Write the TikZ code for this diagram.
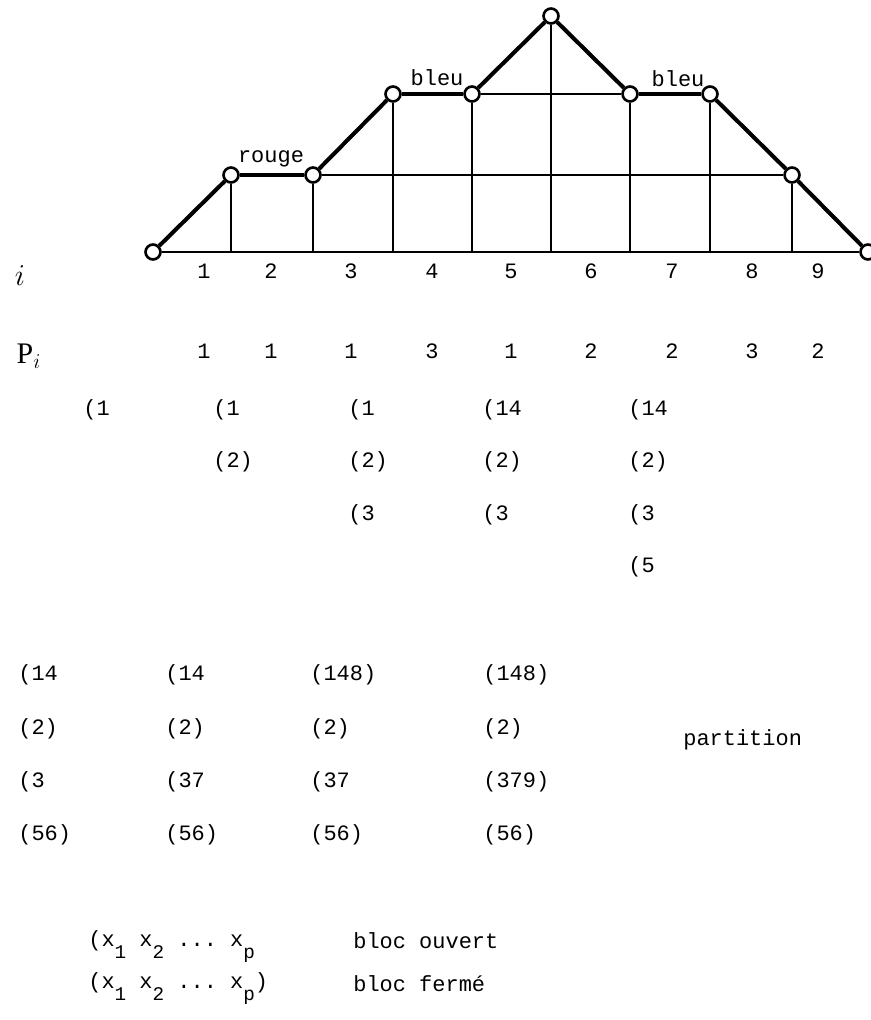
\documentclass[tikz,border=0pt]{standalone}
\usepackage{fontspec}
\setmainfont{Liberation Serif}
\setmonofont{Liberation Mono}
\usetikzlibrary{positioning}
\newcommand{\lowsub}[1]{\raisebox{-1.1ex}{\fontsize{11}{12}\selectfont #1}}
\tikzset{
  vtx/.style  = {circle, draw, fill=white, line width=1.5pt, inner sep=0pt, minimum size=8.5pt},
  thk/.style  = {line width=2.3pt, line join=round},
  thn/.style  = {line width=0.8pt},
  tag/.style  = {font=\ttfamily\fontsize{12.5}{14}\selectfont, inner sep=0pt},
  num/.style  = {font=\ttfamily\fontsize{12.5}{14}\selectfont, inner sep=0pt,
                 text height=1.6ex, text depth=.35ex},
  blk/.style  = {num, anchor=west},
  hdr/.style  = {font=\fontsize{17}{19}\selectfont, inner sep=0pt},
}

\begin{document}
\begin{tikzpicture}[x=0.02cm, y=-0.02cm]
  \useasboundingbox (0,0) rectangle (871,1020);

  \node[vtx] (v0) at (153,252) {};
  \node[vtx] (v1) at (231,175) {};
  \node[vtx] (v2) at (313,175) {};
  \node[vtx] (v3) at (393,94) {};
  \node[vtx] (v4) at (472,94) {};
  \node[vtx] (v5) at (551,16) {};
  \node[vtx] (v6) at (630,94) {};
  \node[vtx] (v7) at (710,94) {};
  \node[vtx] (v8) at (792,175) {};
  \node[vtx] (v9) at (868,252) {};

  \draw[thn] (v0) -- (v9);
  \draw[thn] (v2) -- (v8);
  \draw[thn] (v4) -- (v6);
  \draw[thn] (v1) -- (v1 |- v0);
  \draw[thn] (v2) -- (v2 |- v0);
  \draw[thn] (v3) -- (v3 |- v0);
  \draw[thn] (v4) -- (v4 |- v0);
  \draw[thn] (v5) -- (v5 |- v0);
  \draw[thn] (v6) -- (v6 |- v0);
  \draw[thn] (v7) -- (v7 |- v0);
  \draw[thn] (v8) -- (v8 |- v0);

  \draw[thk] (v0) -- (v1);
  \draw[thk] (v1) -- (v2);
  \draw[thk] (v2) -- (v3);
  \draw[thk] (v3) -- (v4);
  \draw[thk] (v4) -- (v5);
  \draw[thk] (v5) -- (v6);
  \draw[thk] (v6) -- (v7);
  \draw[thk] (v7) -- (v8);
  \draw[thk] (v8) -- (v9);

  \node[tag] (rouge) at (271,159) {rouge};
  \node[tag] (bleuL) at (437,78) {bleu};
  \node[tag] (bleuR) at (678,79) {bleu};

  \node[hdr] (ii) at (20,276) {$i$};
  \node[hdr] (pp) at (29,356) {P$_{i}$};

  \node[num] (i1) at (204,273) {1};
  \node[num] (i2) at (271,273) {2};
  \node[num] (i3) at (351,273) {3};
  \node[num] (i4) at (432,273) {4};
  \node[num] (i5) at (511,273) {5};
  \node[num] (i6) at (591,273) {6};
  \node[num] (i7) at (672,273) {7};
  \node[num] (i8) at (752,273) {8};
  \node[num] (i9) at (818,273) {9};

  \node[num] (p1) at (204,353) {1};
  \node[num] (p2) at (271,353) {1};
  \node[num] (p3) at (351,353) {1};
  \node[num] (p4) at (432,353) {3};
  \node[num] (p5) at (511,353) {1};
  \node[num] (p6) at (591,353) {2};
  \node[num] (p7) at (672,353) {2};
  \node[num] (p8) at (752,353) {3};
  \node[num] (p9) at (818,353) {2};

  \node[blk] (a11) at (83,410) {(1};
  \node[blk] (a21) at (213,410) {(1};
  \node[blk] (a22) at (213,462) {(2)};
  \node[blk] (a31) at (348,410) {(1};
  \node[blk] (a32) at (348,462) {(2)};
  \node[blk] (a33) at (348,515) {(3};
  \node[blk] (a41) at (482,410) {(14};
  \node[blk] (a42) at (482,462) {(2)};
  \node[blk] (a43) at (482,515) {(3};
  \node[blk] (a51) at (628,410) {(14};
  \node[blk] (a52) at (628,462) {(2)};
  \node[blk] (a53) at (628,515) {(3};
  \node[blk] (a54) at (628,567) {(5};

  \node[blk] (b11) at (18,675) {(14};
  \node[blk] (b12) at (18,729) {(2)};
  \node[blk] (b13) at (18,782) {(3};
  \node[blk] (b14) at (18,835) {(56)};
  \node[blk] (b21) at (165,675) {(14};
  \node[blk] (b22) at (165,729) {(2)};
  \node[blk] (b23) at (165,782) {(37};
  \node[blk] (b24) at (165,835) {(56)};
  \node[blk] (b31) at (310,675) {(148)};
  \node[blk] (b32) at (310,729) {(2)};
  \node[blk] (b33) at (310,782) {(37};
  \node[blk] (b34) at (310,835) {(56)};
  \node[blk] (b41) at (483,675) {(148)};
  \node[blk] (b42) at (483,729) {(2)};
  \node[blk] (b43) at (483,782) {(379)};
  \node[blk] (b44) at (483,835) {(56)};
  \node[tag, anchor=west] (part) at (683,740) {partition};

  \node[blk] (open) at (88,941) {(x\lowsub{1} x\lowsub{2} ... x\lowsub{p}};
  \node[blk] (shut) at (88,983) {(x\lowsub{1} x\lowsub{2} ... x\lowsub{p})};
  \node[tag, anchor=west] (openT) at (353,941) {bloc ouvert};
  \node[tag, anchor=west] (shutT) at (353,984) {bloc fermé};
\end{tikzpicture}
\end{document}
